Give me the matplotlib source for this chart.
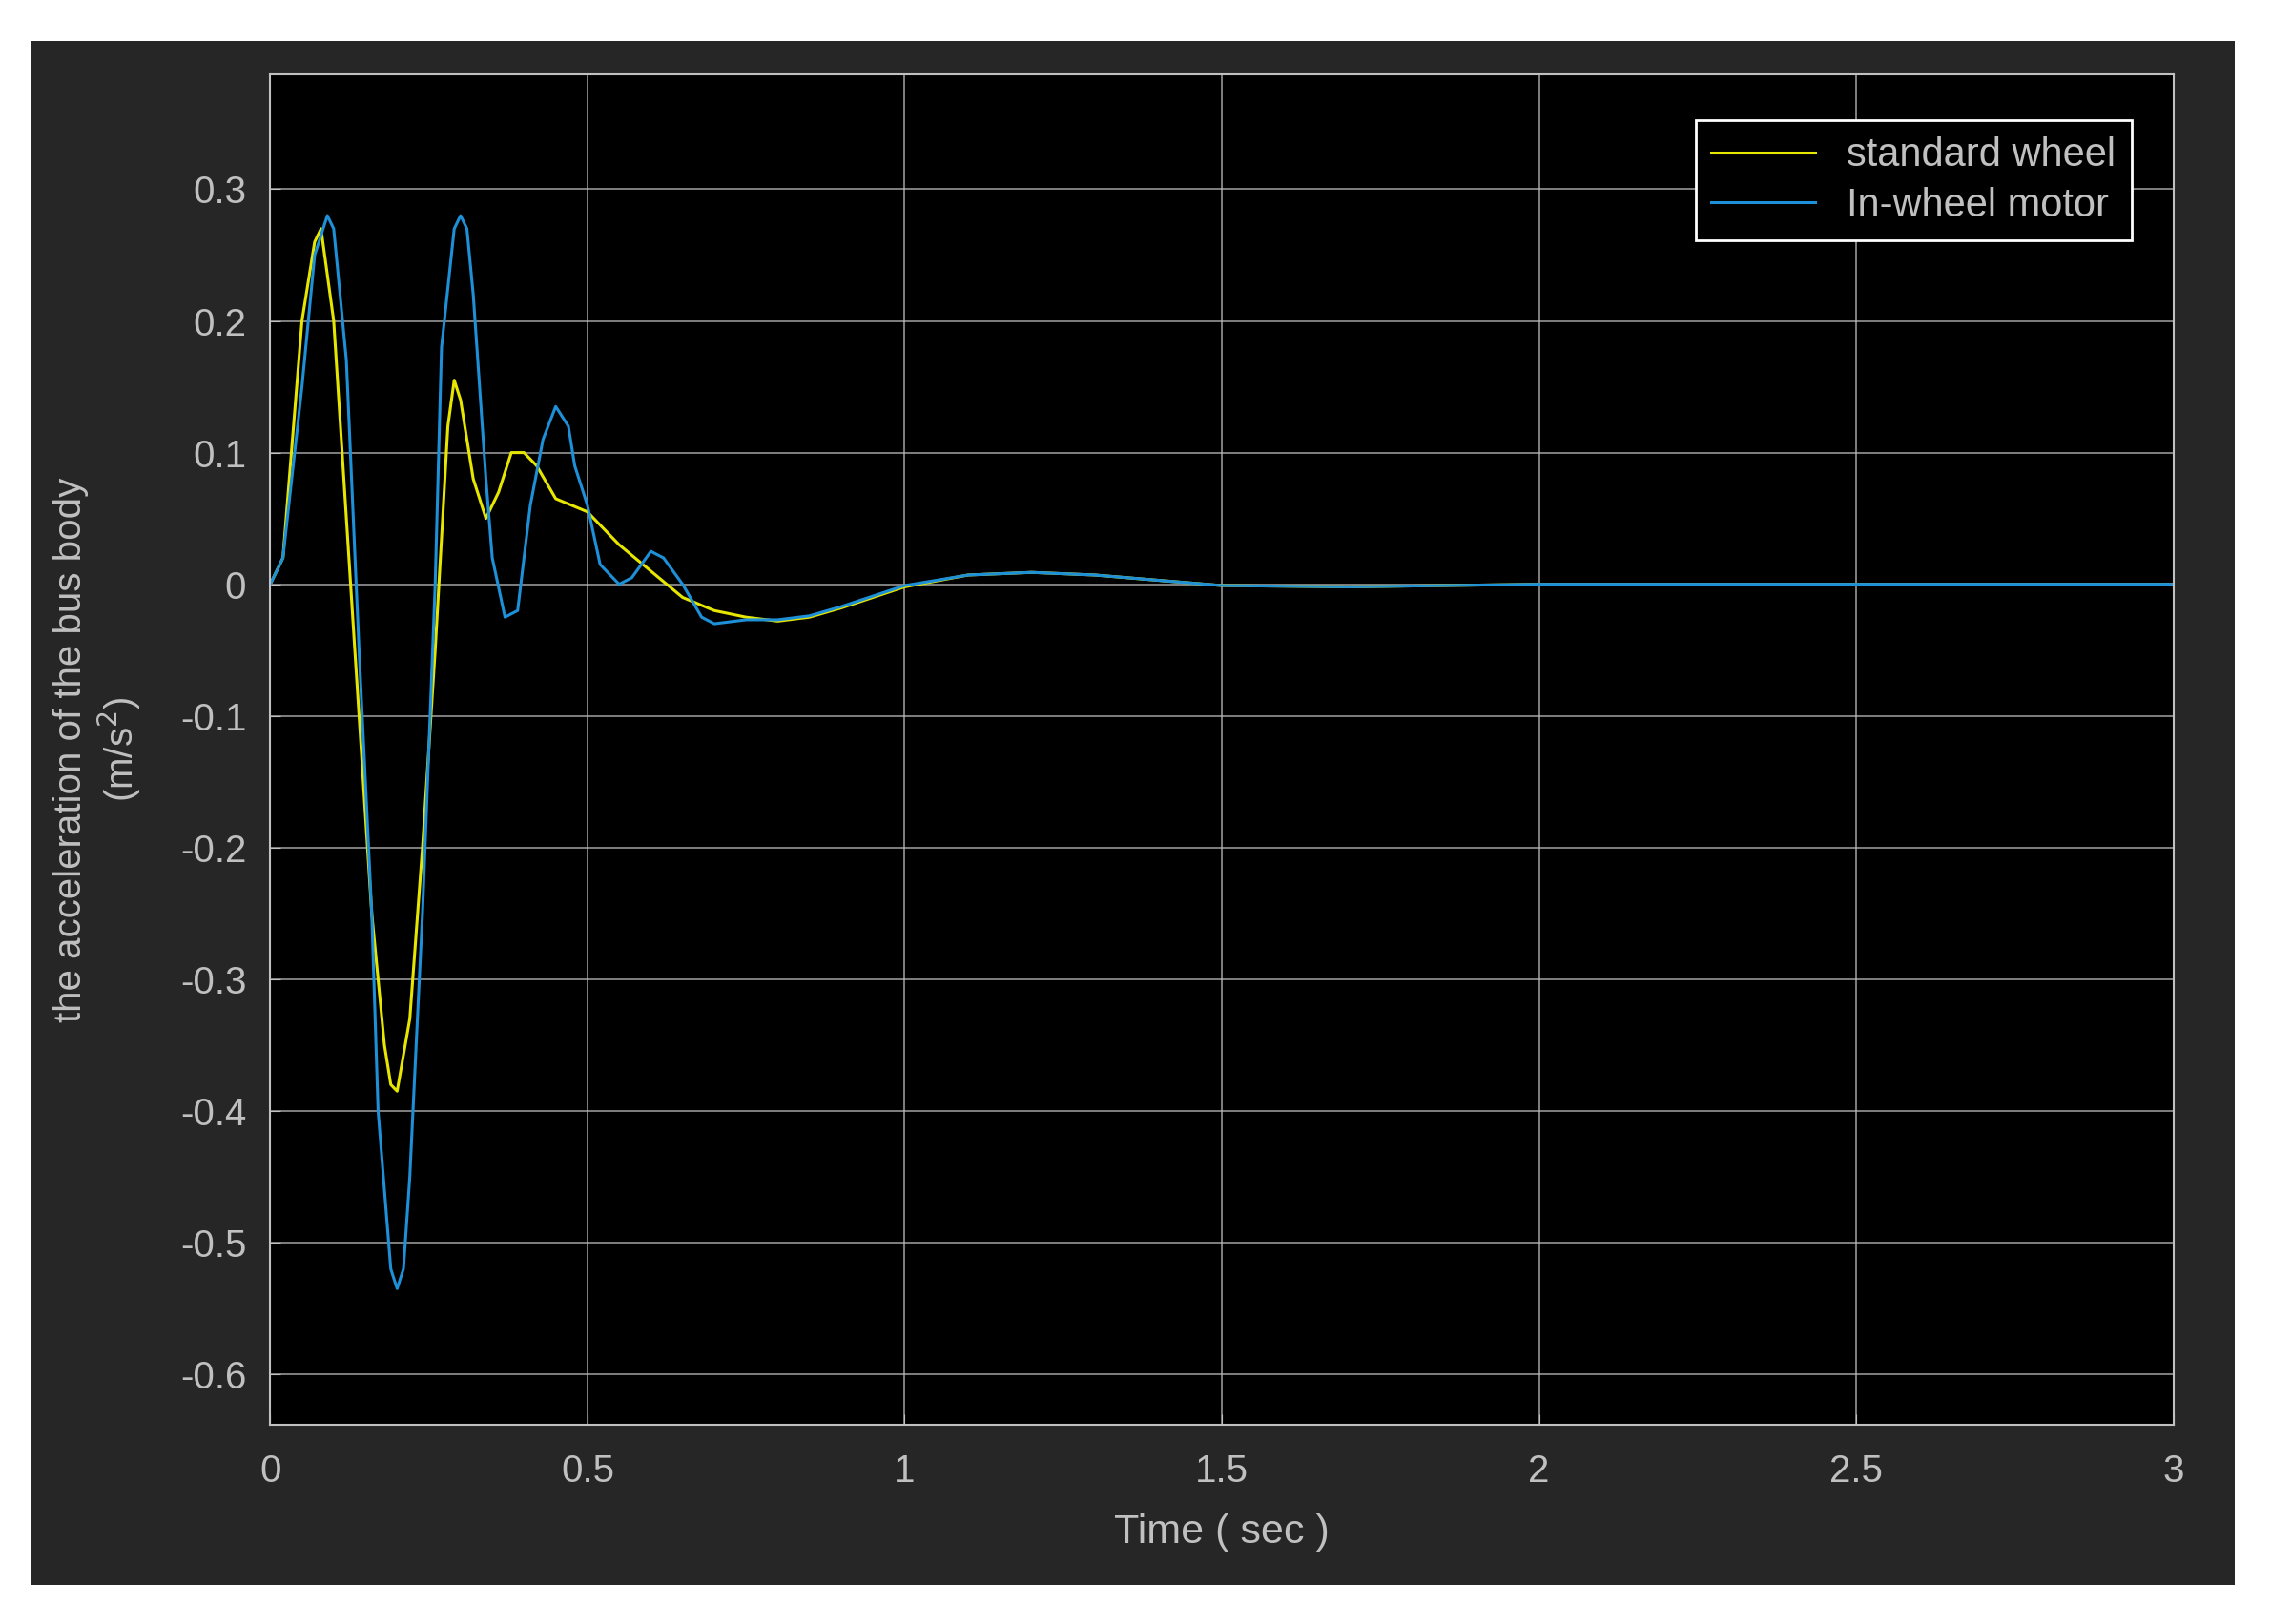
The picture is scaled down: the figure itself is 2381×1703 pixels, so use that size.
import matplotlib
matplotlib.use("Agg")
import matplotlib.pyplot as plt
from matplotlib.patches import Rectangle

t_std = [0,0.02,0.05,0.07,0.08,0.1,0.12,0.14,0.16,0.18,0.19,0.2,0.22,0.24,0.26,0.28,0.29,0.3,0.32,0.34,0.36,0.38,0.4,0.42,0.45,0.5,0.55,0.6,0.65,0.7,0.75,0.8,0.85,0.9,0.95,1.0,1.1,1.2,1.3,1.4,1.5,1.7,2.0,3.0]
a_std = [0,0.02,0.2,0.26,0.27,0.2,0.05,-0.1,-0.25,-0.35,-0.38,-0.385,-0.33,-0.2,-0.05,0.12,0.155,0.14,0.08,0.05,0.07,0.1,0.1,0.09,0.065,0.055,0.03,0.01,-0.01,-0.02,-0.025,-0.028,-0.025,-0.018,-0.01,-0.002,0.007,0.009,0.007,0.003,-0.001,-0.002,0,0]
t_iwm = [0,0.02,0.05,0.07,0.09,0.1,0.12,0.14,0.16,0.17,0.19,0.2,0.21,0.22,0.24,0.26,0.27,0.29,0.3,0.31,0.32,0.34,0.35,0.37,0.39,0.41,0.43,0.45,0.47,0.48,0.5,0.52,0.55,0.57,0.6,0.62,0.65,0.68,0.7,0.75,0.8,0.85,0.9,0.95,1.0,1.1,1.2,1.3,1.4,1.5,1.7,2.0,3.0]
a_iwm = [0,0.02,0.15,0.25,0.28,0.27,0.17,-0.05,-0.25,-0.4,-0.52,-0.535,-0.52,-0.45,-0.25,0.0,0.18,0.27,0.28,0.27,0.22,0.08,0.02,-0.025,-0.02,0.06,0.11,0.135,0.12,0.09,0.06,0.015,0.0,0.005,0.025,0.02,0.0,-0.025,-0.03,-0.027,-0.027,-0.024,-0.017,-0.009,-0.001,0.007,0.009,0.007,0.003,-0.001,-0.002,0,0]

plt.rcParams['font.family'] = ['Liberation Sans', 'DejaVu Sans']
fig = plt.figure(figsize=(23.81, 17.03), dpi=100, facecolor='white')
fig.patches.append(Rectangle((0.014, 0.024), 0.970, 0.951, transform=fig.transFigure,
                             facecolor='#262626', edgecolor='none', zorder=-10))
ax = fig.add_axes([0.119, 0.123, 0.838, 0.831])
ax.set_facecolor('black')
tc = '#c0c0c0'
ax.plot(t_std, a_std, color='#e6e600', lw=2.2, label='standard wheel')
ax.plot(t_iwm, a_iwm, color='#1e90d8', lw=2.2, label='In-wheel motor')
ax.set_xlim(0, 3)
ax.set_ylim(-0.638, 0.387)
ax.set_xticks([0,0.5,1,1.5,2,2.5,3])
ax.set_xticklabels(['0','0.5','1','1.5','2','2.5','3'])
ax.set_yticks([-0.6,-0.5,-0.4,-0.3,-0.2,-0.1,0,0.1,0.2,0.3])
ax.set_yticklabels(['-0.6','-0.5','-0.4','-0.3','-0.2','-0.1','0','0.1','0.2','0.3'])
ax.grid(True, color='#bbbbbb', lw=1.2, alpha=0.8)
for s in ax.spines.values():
    s.set_color(tc); s.set_linewidth(1.5)
ax.tick_params(colors=tc, labelsize=29, direction='in', length=8)
ax.tick_params(axis='x', pad=22)
ax.tick_params(axis='y', pad=18)
ax.set_xlabel('Time ( sec )', color=tc, fontsize=31, labelpad=18)
ax.set_ylabel('the acceleration of the bus body\n(m/s$^2$)', color=tc, fontsize=29, labelpad=28)
leg = ax.legend(loc='upper right', bbox_to_anchor=(0.978, 0.966), fontsize=30,
                facecolor='black', edgecolor='white', framealpha=1, fancybox=False,
                handlelength=2.6, borderaxespad=0, labelspacing=0.3)
leg.get_frame().set_linewidth(2)
for txt in leg.get_texts():
    txt.set_color(tc)
fig.savefig('out.png', dpi=100, facecolor='white')
